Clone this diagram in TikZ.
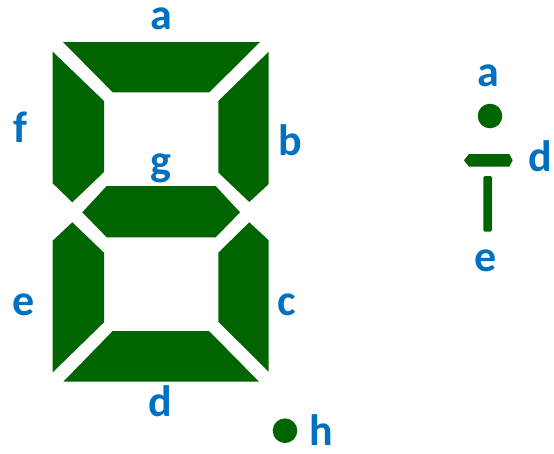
\documentclass[tikz,border=0pt]{standalone}
\usepackage{fontspec}
\setmainfont{Carlito}
\definecolor{seggreen}{RGB}{0,100,0}
\definecolor{labblue}{RGB}{0,112,192}
\begin{document}
\begin{tikzpicture}[x=1pt,y=-1pt,
  seg/.style={fill=seggreen,draw=none},
  lab/.style={text=labblue,font=\fontsize{44}{44}\selectfont\bfseries,inner sep=0pt,anchor=base}]
\useasboundingbox (0,0) rectangle (554,453);
% segments
\path[seg] (63,42) -- (260,42) -- (209.3,92.3) -- (112.7,92.3) -- cycle; % a
\path[seg] (52.7,51.7) -- (104,101) -- (104,172) -- (72.3,202.3) -- (52.7,183.3) -- cycle; % f
\path[seg] (268.7,51.7) -- (218.3,101) -- (218.3,172.5) -- (249.3,202) -- (268.7,184) -- cycle; % b
\path[seg] (82.3,212.3) -- (106.7,186) -- (215.7,186) -- (240,212.3) -- (215.7,237.3) -- (106.7,237.3) -- cycle; % g
\path[seg] (72.3,222.3) -- (104,252.7) -- (104,322.3) -- (52.7,372.3) -- (52.7,240.7) -- cycle; % e
\path[seg] (249.3,222.3) -- (218.3,252.7) -- (218.3,321.7) -- (268.7,371.7) -- (268.7,240.3) -- cycle; % c
\path[seg] (112.7,331) -- (209,331) -- (259,381.7) -- (63.3,381.7) -- cycle; % d
\fill[seggreen] (285,430.7) circle (12.3); % h dot
% right legend
\fill[seggreen] (490,116) circle (12.3);
\path[seg] (464,160.3) -- (469,154) -- (509.3,154) -- (512.7,160.3) -- (509.3,166.7) -- (469,166.7) -- cycle;
\path[seg,rounded corners=1.5] (483.4,176) rectangle (492,231.7);
% labels
\node[lab] (la) at (161,29) {a};
\node[lab] (lf) at (20,142) {f};
\node[lab] (lb) at (290,155) {b};
\node[lab] (lg) at (161,175) {g};
\node[lab] (le) at (24,315) {e};
\node[lab] (lc) at (287,315) {c};
\node[lab] (ld) at (160,416) {d};
\node[lab] (lh) at (321,445) {h};
\node[lab] (ra) at (488,86) {a};
\node[lab] (rd) at (540,171) {d};
\node[lab] (re) at (486,271) {e};
\end{tikzpicture}
\end{document}
